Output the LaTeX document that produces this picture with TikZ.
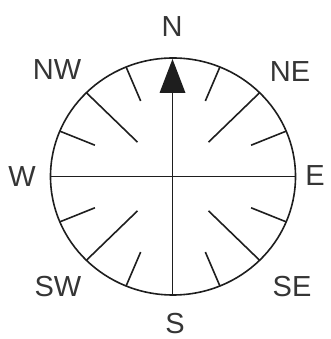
\documentclass[tikz,border=0pt]{standalone}
\usepackage{fontspec}
\setmainfont{Liberation Sans}
\usetikzlibrary{positioning}
\definecolor{inkC}{RGB}{ 30, 30, 30}
\tikzset{
  rimline/.style  = {line width=1.6pt, color=inkC},
  tickline/.style = {line width=1.6pt, color=inkC},
  dirlbl/.style   = {font=\fontsize{29}{29}\selectfont, color=inkC!90, inner sep=0pt},
}

\begin{document}
\begin{tikzpicture}[x=1pt, y=1pt]

% ---- Frame ------------------------------------------------------------------
\useasboundingbox (0,0) rectangle (330,339);

\def\cx{173}    % centre x
\def\cy{162.5}  % centre y
\def\rx{122.5}  % half-width of the rim
\def\ry{118.5}  % half-height of the rim

% Rim
\draw[rimline] (\cx,\cy) ellipse [x radius=\rx, y radius=\ry];

% Cross lines
\draw[rimline] ({\cx-\rx},\cy) -- ({\cx+\rx},\cy);
\draw[rimline] (172.5,{\cy-\ry}) -- (172.5,250);

% ---- Ticks ------------------------------------------------------------------
% long ticks on the diagonals
\foreach \a in {45,135,225,315}
  \draw[tickline] ({\cx+0.41*\rx*cos(\a)},{\cy+0.41*\ry*sin(\a)})
               -- ({\cx+\rx*cos(\a)},{\cy+\ry*sin(\a)});
% short ticks in between
\foreach \a in {22.5,67.5,112.5,157.5,202.5,247.5,292.5,337.5}
  \draw[tickline] ({\cx+0.69*\rx*cos(\a)},{\cy+0.69*\ry*sin(\a)})
               -- ({\cx+\rx*cos(\a)},{\cy+\ry*sin(\a)});

% ---- North pointer ----------------------------------------------------------
\fill[inkC] (172.5,280) -- (185.5,246) -- (159.5,246) -- cycle;

% ---- Labels -----------------------------------------------------------------
\foreach \nm/\px/\py in {N/172/312, NE/290/267, E/315/163, SE/292/52,
                         S/175/15, SW/58/52, W/22/162, NW/57/269}
  \node[dirlbl] (lbl\nm) at (\px,\py) {\nm};

\end{tikzpicture}
\end{document}
